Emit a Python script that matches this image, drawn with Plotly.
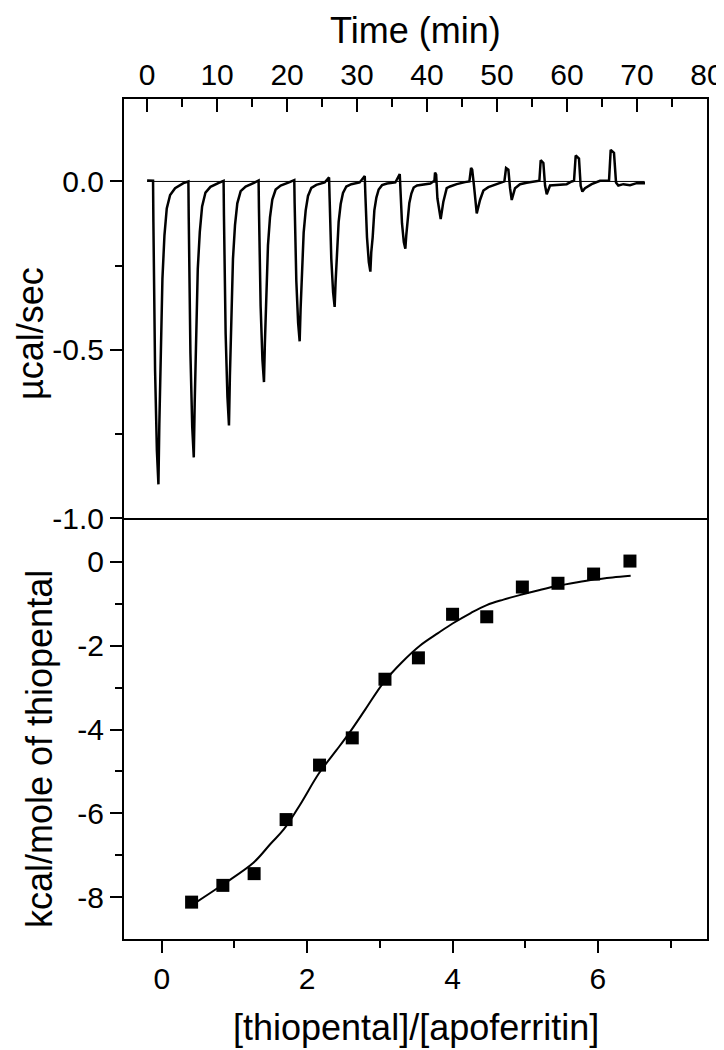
import plotly.graph_objects as go

# raw ITC thermogram (top panel)
time_min = [
    0.0, 0.5,
    0.85, 0.90, 1.14, 1.40, 1.62, 1.75, 1.95, 2.19, 2.48, 2.81, 3.29, 4.00, 5.19,
    5.90, 5.95, 6.19, 6.45, 6.67, 6.80, 7.00, 7.24, 7.53, 7.86, 8.34, 9.05, 10.24,
    10.93, 10.98, 11.22, 11.48, 11.70, 11.83, 12.03, 12.27, 12.56, 12.89, 13.37, 14.08, 15.27,
    15.93, 15.98, 16.22, 16.48, 16.70, 16.83, 17.03, 17.27, 17.56, 17.89, 18.37, 19.08, 20.27,
    21.03, 21.08, 21.32, 21.58, 21.80, 21.93, 22.13, 22.37, 22.66, 22.99, 23.47, 24.18, 25.37,
    26.00, 26.08, 26.32, 26.58, 26.80, 26.93, 27.13, 27.37, 27.66, 27.99, 28.47, 29.18, 30.37,
    31.10, 31.18, 31.42, 31.68, 31.90, 32.03, 32.23, 32.47, 32.76, 33.09, 33.57, 34.28, 35.47,
    36.10, 36.18, 36.42, 36.68, 36.90, 37.03, 37.23, 37.47, 37.76, 38.09, 38.57, 39.28, 40.47,
    40.90, 41.05, 41.14, 41.30, 41.48, 41.95, 42.33, 42.81, 43.29, 44.24, 45.43,
    46.05, 46.29, 46.45, 46.71, 47.10, 47.57, 48.05, 48.76, 49.95, 50.90,
    51.05, 51.29, 51.62, 51.86, 52.10, 52.57, 53.29, 54.24, 55.67,
    56.05, 56.24, 56.62, 56.86, 57.10, 57.57, 58.52, 59.95, 60.67,
    61.00, 61.24, 61.71, 61.95, 62.19, 62.57, 63.52, 64.71, 65.67,
    66.00, 66.24, 66.71, 67.00, 67.33, 68.05, 69.00, 69.95, 71.14,
]
power_ucal = [
    0.003, 0.002,
    0.002, -0.12, -0.56, -0.80, -0.90, -0.72, -0.56, -0.29, -0.16, -0.08, -0.04, -0.02, -0.005,
    0.0, -0.11, -0.51, -0.73, -0.82, -0.66, -0.51, -0.26, -0.15, -0.074, -0.033, -0.016, -0.004,
    0.002, -0.10, -0.45, -0.64, -0.725, -0.58, -0.45, -0.23, -0.13, -0.065, -0.029, -0.015, -0.004,
    0.003, -0.08, -0.37, -0.53, -0.596, -0.48, -0.37, -0.19, -0.107, -0.054, -0.024, -0.012, -0.003,
    0.004, -0.064, -0.295, -0.42, -0.475, -0.38, -0.295, -0.152, -0.086, -0.043, -0.019, -0.010, -0.003,
    0.012, -0.05, -0.23, -0.33, -0.373, -0.30, -0.23, -0.12, -0.067, -0.034, -0.015, -0.008, -0.003,
    0.016, -0.036, -0.166, -0.24, -0.268, -0.21, -0.166, -0.086, -0.048, -0.024, -0.011, -0.006, -0.003,
    0.022, -0.027, -0.124, -0.18, -0.20, -0.16, -0.124, -0.064, -0.036, -0.018, -0.012, -0.010, -0.006,
    0.0, 0.0, 0.026, 0.02, -0.05, -0.112, -0.06, -0.02, -0.015, -0.008, -0.002,
    0.0, 0.04, 0.035, -0.013, -0.095, -0.055, -0.027, -0.017, -0.008, -0.003,
    0.0, 0.04, 0.035, -0.02, -0.055, -0.02, -0.008, -0.004, 0.002,
    0.002, 0.063, 0.055, -0.012, -0.038, -0.012, -0.010, -0.008, 0.0,
    0.002, 0.077, 0.068, -0.013, -0.03, -0.02, -0.008, 0.002, 0.002,
    0.002, 0.094, 0.085, -0.003, -0.012, -0.008, -0.011, -0.005, -0.005,
]
baseline_time = [0.0, 71.1]
baseline_power = [0.0, 0.0]

# integrated heats (bottom panel)
ratio = [0.41, 0.84, 1.27, 1.71, 2.17, 2.62, 3.07, 3.53, 4.00, 4.47, 4.96, 5.45, 5.94, 6.44]
heat_kcal = [-8.12, -7.72, -7.44, -6.15, -4.85, -4.20, -2.80, -2.29, -1.25, -1.31, -0.60, -0.51, -0.29, 0.02]

# fitted curve
fit_ratio = [0.45, 0.84, 1.26, 1.50, 1.68, 1.90, 2.16, 2.40, 2.58, 2.80, 3.05, 3.30, 3.55,
             3.80, 4.00, 4.25, 4.47, 4.70, 4.95, 5.20, 5.45, 5.70, 5.95, 6.20, 6.45]
fit_heat = [-8.15, -7.70, -7.18, -6.72, -6.38, -5.80, -5.05, -4.50, -4.08, -3.52, -2.88, -2.40, -2.00,
            -1.70, -1.47, -1.22, -1.03, -0.90, -0.78, -0.67, -0.57, -0.49, -0.42, -0.37, -0.33]

FONT = "Liberation Sans, Arial, sans-serif"
TICK = dict(family=FONT, size=30, color="black")
TITLE = dict(family=FONT, size=36, color="black")

fig = go.Figure()

fig.add_trace(go.Scatter(x=baseline_time, y=baseline_power, mode="lines",
                         line=dict(color="black", width=1), xaxis="x", yaxis="y"))
fig.add_trace(go.Scatter(x=time_min, y=power_ucal, mode="lines",
                         line=dict(color="black", width=2.5), xaxis="x", yaxis="y"))
fig.add_trace(go.Scatter(x=fit_ratio, y=fit_heat, mode="lines", line_shape="spline",
                         line=dict(color="black", width=2), xaxis="x2", yaxis="y2"))
fig.add_trace(go.Scatter(x=ratio, y=heat_kcal, mode="markers",
                         marker=dict(symbol="square", size=13, color="black"),
                         xaxis="x2", yaxis="y2"))

axis_common = dict(showline=True, linecolor="black", linewidth=2, mirror=True,
                   showgrid=False, zeroline=False, tickcolor="black", tickwidth=2,
                   tickfont=TICK, automargin=False)
overlay_common = dict(ticks="inside", ticklen=9, tickwidth=2, tickcolor="black",
                      showticklabels=False, showline=False, showgrid=False,
                      zeroline=False, automargin=False)

# the page body adds an 8 px offset, so the figure is 8 px smaller than the window
PLOT_H = 840
SPLIT = 419 / PLOT_H

fig.update_layout(
    width=716, height=1042,
    margin=dict(l=116, r=17, t=91, b=111, autoexpand=False),
    plot_bgcolor="white", paper_bgcolor="white",
    showlegend=False,
    xaxis=dict(axis_common, domain=[0, 1], anchor="y", side="top", range=[-3.3, 80],
               tickvals=[0, 10, 20, 30, 40, 50, 60, 70, 80], ticks="inside", ticklen=13,
               minor=dict(tickvals=[5, 15, 25, 35, 45, 55, 65, 75], ticks="inside",
                          ticklen=8, tickwidth=2, tickcolor="black"),
               ticklabelstandoff=0),
    yaxis=dict(axis_common, domain=[SPLIT + 2 / PLOT_H, 1], anchor="x", range=[-1.0, 0.245],
               tickvals=[0, -0.5, -1.0], ticktext=["0.0", "-0.5", "-1.0"],
               ticks="outside", ticklen=12,
               minor=dict(tickvals=[-0.25, -0.75], ticks="outside", ticklen=7,
                          tickwidth=2, tickcolor="black")),
    xaxis2=dict(axis_common, domain=[0, 1], anchor="y2", range=[-0.52, 7.5],
                tickvals=[0, 2, 4, 6], ticks="outside", ticklen=12,
                minor=dict(tickvals=[1, 3, 5, 7], ticks="outside", ticklen=7,
                           tickwidth=2, tickcolor="black")),
    yaxis2=dict(axis_common, domain=[0, SPLIT], anchor="x2", range=[-9, 1],
                tickvals=[0, -2, -4, -6, -8], ticktext=["0", "-2", "-4", "-6", "-8"],
                ticks="outside", ticklen=12,
                minor=dict(tickvals=[-1, -3, -5, -7], ticks="outside", ticklen=7,
                           tickwidth=2, tickcolor="black")),
    xaxis3=dict(overlay_common, overlaying="x2", anchor="y2", side="top",
                range=[-0.52, 7.5], tickvals=[0, 1, 2, 3, 4, 5, 6, 7]),
    yaxis3=dict(overlay_common, overlaying="y2", anchor="x2", side="right",
                range=[-9, 1], tickvals=[0, -1, -2, -3, -4, -5, -6, -7, -8]),
    annotations=[
        dict(text="Time (min)", xref="paper", yref="paper", x=0.5, y=931 / PLOT_H,
             xanchor="center", yanchor="top", showarrow=False, font=TITLE),
        dict(text="[thiopental]/[apoferritin]", xref="paper", yref="paper", x=0.5,
             y=-111 / PLOT_H, xanchor="center", yanchor="bottom", showarrow=False, font=TITLE),
        dict(text="µcal/sec", xref="paper", yref="paper", x=-0.16, y=0.721,
             xanchor="center", yanchor="middle", textangle=-90, showarrow=False, font=TITLE),
        dict(text="kcal/mole of thiopental", xref="paper", yref="paper", x=-0.146, y=0.226,
             xanchor="center", yanchor="middle", textangle=-90, showarrow=False, font=TITLE),
    ],
)

fig.write_html("out.html")
